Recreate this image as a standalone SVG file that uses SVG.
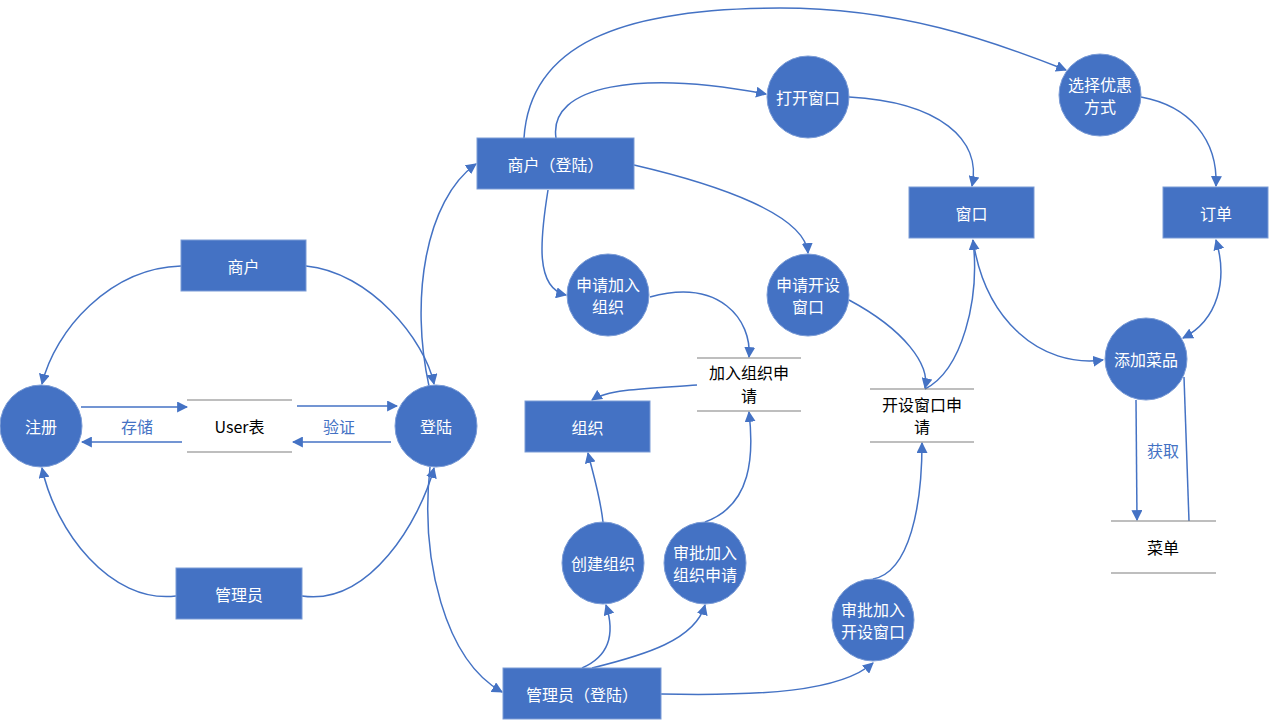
<svg xmlns="http://www.w3.org/2000/svg" width="1269" height="720" viewBox="0 0 1269 720">
<defs>
<marker id="ah" viewBox="0 0 10 10" refX="9" refY="5" markerWidth="11" markerHeight="11" markerUnits="userSpaceOnUse" orient="auto-start-reverse">
<path d="M0,0 L10,5 L0,10 z" fill="#4472C4"/>
</marker>
<style>
.n{fill:#4472C4;stroke:#7A9BD6;stroke-width:1}
.t{font-family:"Noto Sans CJK SC","Liberation Sans",sans-serif;font-size:16px;fill:#fff;text-anchor:middle;dominant-baseline:central}
.k{font-family:"Noto Sans CJK SC","Liberation Sans",sans-serif;font-size:16px;fill:#000;text-anchor:middle;dominant-baseline:central}
.b{font-family:"Noto Sans CJK SC","Liberation Sans",sans-serif;font-size:16px;fill:#4472C4;text-anchor:middle;dominant-baseline:central}
.s{stroke:#7F7F7F;stroke-width:1.2}
.c path{fill:none;stroke:#4472C4;stroke-width:1.5}
</style>
</defs>
<rect width="1269" height="720" fill="#fff"/>

<g class="c" id="connectors">
<path d="M181,266 C110,268 55,330 42,384" marker-end="url(#ah)"/>
<path d="M306,266 C370,272 425,340 434,384" marker-end="url(#ah)"/>
<path d="M176,596 C110,604 55,530 42,468" marker-end="url(#ah)"/>
<path d="M302,596 C370,606 420,520 434,468" marker-end="url(#ah)"/>
<path d="M81,407 L187,407" marker-end="url(#ah)"/>
<path d="M182,442 L82,442" marker-end="url(#ah)"/>
<path d="M297,406 L397,406" marker-end="url(#ah)"/>
<path d="M391,442 L293,442" marker-end="url(#ah)"/>
<path d="M429,386 C410,300 425,200 476,164" marker-end="url(#ah)"/>
<path d="M430,467 C420,560 445,660 502,692" marker-end="url(#ah)"/>
<path d="M524,138 C530,45 620,8 780,8 C900,8 990,40 1066,70" marker-end="url(#ah)"/>
<path d="M556,138 C548,85 640,70 766,94" marker-end="url(#ah)"/>
<path d="M849,97 C940,102 982,140 972,186" marker-end="url(#ah)"/>
<path d="M1141,97 C1190,106 1218,140 1216,186" marker-end="url(#ah)"/>
<path d="M548,190 C540,240 535,288 566,295" marker-end="url(#ah)"/>
<path d="M634,165 C720,185 805,215 808,253" marker-end="url(#ah)"/>
<path d="M650,297 C720,278 752,320 749,357" marker-end="url(#ah)"/>
<path d="M697,385 C660,388 610,388 592,400" marker-end="url(#ah)"/>
<path d="M849,300 C905,330 930,365 925,388" marker-end="url(#ah)"/>
<path d="M925,389 C962,370 980,300 973,240" marker-end="url(#ah)"/>
<path d="M973,240 C985,320 1040,368 1103,360" marker-end="url(#ah)"/>
<path d="M1183,338 C1218,320 1228,280 1216,240" marker-start="url(#ah)" marker-end="url(#ah)"/>
<path d="M1136,400 L1137,520" marker-end="url(#ah)"/>
<path d="M1189,521 L1184,377"/>
<path d="M603,522 C600,495 592,470 588,453" marker-end="url(#ah)"/>
<path d="M705,522 C752,505 754,455 749,412" marker-end="url(#ah)"/>
<path d="M873,579 C910,572 922,505 922,443" marker-end="url(#ah)"/>
<path d="M582,668 C612,655 614,630 606,605" marker-end="url(#ah)"/>
<path d="M592,668 C645,655 695,640 705,605" marker-end="url(#ah)"/>
<path d="M661,694 C760,696 840,692 873,663" marker-end="url(#ah)"/>
</g>

<g id="n-register"><circle class="n" cx="41" cy="426" r="41"/><text class="t" x="41" y="426">注册</text></g>
<g id="n-login"><circle class="n" cx="436" cy="426" r="41"/><text class="t" x="436" y="426">登陆</text></g>
<g id="n-merchant"><rect class="n" x="181" y="240" width="125" height="51"/><text class="t" x="243.5" y="265.5">商户</text></g>
<g id="n-admin"><rect class="n" x="176" y="568" width="126" height="51"/><text class="t" x="239" y="593.5">管理员</text></g>
<g id="n-user"><line class="s" x1="187" y1="400" x2="292" y2="400"/><line class="s" x1="187" y1="452" x2="292" y2="452"/><text class="k" x="239.5" y="426">User表</text></g>
<g id="l-store"><text class="b" x="137" y="426">存储</text></g>
<g id="l-verify"><text class="b" x="339" y="426">验证</text></g>

<g id="n-mlogin"><rect class="n" x="477" y="138" width="157" height="51"/><text class="t" x="555.5" y="163.5">商户（登陆）</text></g>
<g id="n-applyorg"><circle class="n" cx="608" cy="295" r="41"/><text class="t" x="608" y="284">申请加入</text><text class="t" x="608" y="306">组织</text></g>
<g id="n-applywin"><circle class="n" cx="808" cy="295" r="41"/><text class="t" x="808" y="284">申请开设</text><text class="t" x="808" y="306">窗口</text></g>
<g id="n-orgreq"><line class="s" x1="697" y1="358" x2="801" y2="358"/><line class="s" x1="697" y1="411" x2="801" y2="411"/><text class="k" x="749" y="372">加入组织申</text><text class="k" x="749" y="395">请</text></g>
<g id="n-org"><rect class="n" x="525" y="401" width="125" height="51"/><text class="t" x="587.5" y="426.5">组织</text></g>
<g id="n-openwin"><circle class="n" cx="808" cy="97" r="41"/><text class="t" x="808" y="97">打开窗口</text></g>
<g id="n-discount"><circle class="n" cx="1100" cy="95" r="41"/><text class="t" x="1100" y="84">选择优惠</text><text class="t" x="1100" y="106">方式</text></g>
<g id="n-window"><rect class="n" x="909" y="187" width="125" height="51"/><text class="t" x="971.5" y="212.5">窗口</text></g>
<g id="n-order"><rect class="n" x="1163" y="187" width="105" height="51"/><text class="t" x="1216" y="212.5">订单</text></g>
<g id="n-adddish"><circle class="n" cx="1146" cy="359" r="41"/><text class="t" x="1146" y="359">添加菜品</text></g>
<g id="n-winreq"><line class="s" x1="870" y1="389" x2="974" y2="389"/><line class="s" x1="870" y1="442" x2="974" y2="442"/><text class="k" x="922" y="404">开设窗口申</text><text class="k" x="922" y="426">请</text></g>
<g id="n-menu"><line class="s" x1="1111" y1="521" x2="1216" y2="521"/><line class="s" x1="1111" y1="573" x2="1216" y2="573"/><text class="k" x="1163" y="547">菜单</text></g>
<g id="l-fetch"><text class="b" x="1163" y="450">获取</text></g>
<g id="n-createorg"><circle class="n" cx="603" cy="563" r="41"/><text class="t" x="603" y="563">创建组织</text></g>
<g id="n-approveorg"><circle class="n" cx="705" cy="563" r="41"/><text class="t" x="705" y="552">审批加入</text><text class="t" x="705" y="574">组织申请</text></g>
<g id="n-approvewin"><circle class="n" cx="873" cy="620" r="41"/><text class="t" x="873" y="609">审批加入</text><text class="t" x="873" y="631">开设窗口</text></g>
<g id="n-alogin"><rect class="n" x="503" y="668" width="158" height="51"/><text class="t" x="582" y="693.5">管理员（登陆）</text></g>
</svg>
